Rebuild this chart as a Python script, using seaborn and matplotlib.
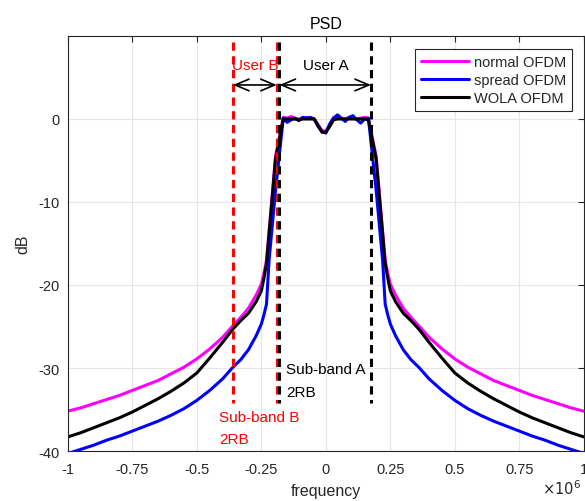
import matplotlib
matplotlib.use('Agg')
import matplotlib.pyplot as plt
import matplotlib.ticker as mticker
import seaborn as sns
import pandas as pd

# frequency grid (Hz, shown as x10^6)
freq_mhz = [-1.0, -0.95, -0.9, -0.85, -0.8, -0.75, -0.7, -0.65, -0.6, -0.55, -0.5, -0.45, -0.4, -0.36,
            -0.33, -0.3, -0.27, -0.25, -0.24, -0.23, -0.22, -0.195,
            -0.165, -0.15, -0.135, -0.12, -0.105, -0.09, -0.075, -0.06, -0.045, -0.03, -0.015,
            0.0, 0.015, 0.03, 0.045, 0.06, 0.075, 0.09, 0.105, 0.12, 0.135, 0.15, 0.165,
            0.195, 0.22, 0.23, 0.24, 0.25, 0.27, 0.3, 0.33,
            0.36, 0.4, 0.45, 0.5, 0.55, 0.6, 0.65, 0.7, 0.75, 0.8, 0.85, 0.9, 0.95, 1.0]

normal_db = [-35.2, -34.8, -34.3, -33.8, -33.3, -32.7, -32.1, -31.5, -30.7, -29.9, -28.9, -27.7, -26.3, -24.9,
             -23.9, -22.8, -21.2, -19.9, -18.6, -17.0, -13.5, -4.5,
             0.2, 0.1, 0.3, 0.1, 0.0, 0.1, 0.2, 0.1, 0.0, -0.7, -1.4,
             -1.5, -0.7, 0.2, 0.2, 0.1, 0.0, 0.2, 0.1, 0.0, 0.1, 0.2, 0.1,
             -4.5, -13.5, -17.0, -18.6, -19.9, -21.2, -22.8, -23.9,
             -24.9, -26.3, -27.7, -28.9, -29.9, -30.7, -31.5, -32.1, -32.7, -33.3, -33.8, -34.3, -34.8, -35.2]

spread_db = [-40.3, -39.8, -39.3, -38.7, -38.2, -37.6, -37.0, -36.4, -35.7, -34.9, -33.9, -32.7, -31.3, -29.9,
             -29.0, -27.8, -26.1, -24.7, -23.6, -22.3, -17.0, -8.6,
             0.1, -0.4, -0.1, 0.1, -0.2, 0.2, 0.1, 0.2, 0.0, -0.9, -1.5,
             -1.7, -0.6, 0.1, 0.5, 0.1, -0.3, 0.2, 0.4, -0.1, -0.5, 0.0, 0.1,
             -8.6, -17.0, -22.3, -23.6, -24.7, -26.1, -27.8, -29.0,
             -29.9, -31.3, -32.7, -33.9, -34.9, -35.7, -36.4, -37.0, -37.6, -38.2, -38.7, -39.3, -39.8, -40.3]

wola_db = [-38.3, -37.8, -37.2, -36.6, -36.0, -35.3, -34.5, -33.7, -32.8, -31.8, -30.6, -28.8, -26.9, -25.3,
           -24.3, -23.4, -22.0, -20.7, -19.2, -17.4, -13.8, -4.8,
           0.0, 0.0, 0.0, 0.0, -0.1, 0.0, 0.0, 0.0, 0.0, -0.8, -1.6,
           -1.6, -0.9, -0.1, 0.0, 0.0, 0.0, 0.0, 0.0, 0.0, 0.0, 0.0, -0.1,
           -4.8, -13.8, -17.4, -19.2, -20.7, -22.0, -23.4, -24.3,
           -25.3, -26.9, -28.8, -30.6, -31.8, -32.8, -33.7, -34.5, -35.3, -36.0, -36.6, -37.2, -37.8, -38.3]

series_names = ['normal OFDM', 'spread OFDM', 'WOLA OFDM']
series_colors = ['#FF00FF', '#0000FF', '#000000']

# band edges (MHz)
user_b_edges = [-0.36, -0.19]
user_a_edges = [-0.18, 0.175]

rows = []
for name, vals in zip(series_names, [normal_db, spread_db, wola_db]):
    for f, v in zip(freq_mhz, vals):
        rows.append({'freq': f * 1e6, 'dB': v, 'type': name})
df = pd.DataFrame(rows)

sns.set_style('white')
plt.rcParams['font.family'] = ['Liberation Sans', 'DejaVu Sans']
plt.rcParams['axes.unicode_minus'] = False

fig = plt.figure(figsize=(5.85, 5.02), dpi=100)
ax = fig.add_axes([0.116, 0.0996, 0.882, 0.8267])

sns.lineplot(data=df, x='freq', y='dB', hue='type', hue_order=series_names,
             palette=series_colors, estimator=None, sort=True, linewidth=2.2, ax=ax)

# band boundary lines
dash = (0, (2.7, 1.8))
for xb in user_b_edges:
    ax.plot([xb * 1e6, xb * 1e6], [9.3, -34.2], color='#FF0000', lw=2.2, linestyle=dash, zorder=5)
for xa in user_a_edges:
    ax.plot([xa * 1e6, xa * 1e6], [9.3, -34.2], color='black', lw=2.2, linestyle=dash, zorder=6)

# double arrows
arr = dict(arrowstyle='<->,head_length=1.0,head_width=0.42', color='black', lw=1.2,
           shrinkA=0, shrinkB=0)
ax.annotate('', xy=(user_b_edges[0] * 1e6, 4.1), xytext=(user_b_edges[1] * 1e6, 4.1), arrowprops=arr, zorder=7)
ax.annotate('', xy=(user_a_edges[0] * 1e6, 4.1), xytext=(user_a_edges[1] * 1e6, 4.1), arrowprops=arr, zorder=7)

ax.text(-0.275e6, 6.5, 'User B', color='#FF0000', ha='center', va='center', fontsize=11)
ax.text(0.0, 6.5, 'User A', color='black', ha='center', va='center', fontsize=11)
ax.text(-0.155e6, -30.1, 'Sub-band A', color='black', ha='left', va='center', fontsize=11)
ax.text(-0.155e6, -32.9, '2RB', color='black', ha='left', va='center', fontsize=11)
ax.text(-0.415e6, -35.9, 'Sub-band B', color='#FF0000', ha='left', va='center', fontsize=11)
ax.text(-0.415e6, -38.6, '2RB', color='#FF0000', ha='left', va='center', fontsize=11)

ax.set_xlim(-1e6, 1e6)
ax.set_ylim(-40, 10)
ax.set_xticks([v * 1e6 for v in [-1, -0.75, -0.5, -0.25, 0, 0.25, 0.5, 0.75, 1]])
ax.set_yticks([-40, -30, -20, -10, 0])
ax.xaxis.set_major_formatter(mticker.FuncFormatter(lambda v, p: f'{v / 1e6:g}'))
ax.grid(True, color='#e6e6e6', lw=0.8)
ax.tick_params(direction='in', length=4, width=0.8, labelsize=10.5, colors='#262626',
               top=True, right=True, labelcolor='#262626')
ax.tick_params(axis='x', pad=8)
ax.tick_params(axis='y', pad=6)
for s in ax.spines.values():
    s.set_color('#262626')
    s.set_linewidth(0.8)

ax.set_xlabel('frequency', fontsize=11.5, color='#262626', labelpad=5)
ax.set_ylabel('dB', fontsize=11.5, color='#262626', labelpad=6)
ax.set_title('PSD', fontsize=11.5, color='black', pad=6)
ax.text(0.995, -0.088, r'$\times10^{6}$', transform=ax.transAxes, ha='right', va='center',
        fontsize=10.5, color='#262626')

leg = ax.legend(loc='upper right', bbox_to_anchor=(0.977, 0.969), fontsize=10.5,
                handlelength=3.3, handletextpad=0.35, frameon=True, fancybox=False, framealpha=1,
                edgecolor='#262626', borderpad=0.4, labelspacing=0.3, borderaxespad=0)
leg.get_frame().set_linewidth(0.8)
for line in leg.get_lines():
    line.set_linewidth(2.2)

fig.savefig('out.png', dpi=100)
